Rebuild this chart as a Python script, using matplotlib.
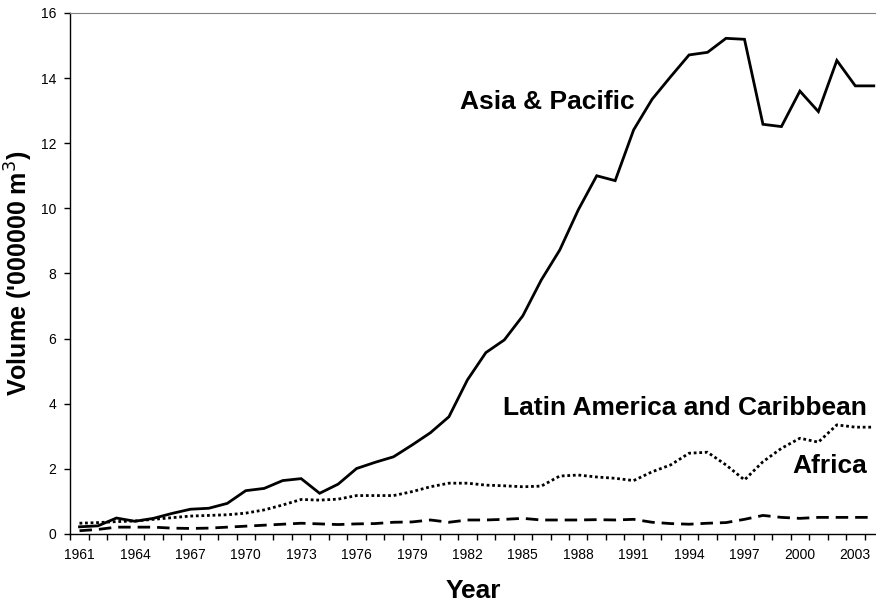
import numpy as np
import matplotlib.pyplot as plt
import matplotlib.ticker as ticker

plt.rcParams['font.family'] = ['Liberation Sans', 'DejaVu Sans']

years = np.arange(1961, 2005)

asia_pacific = [0.22, 0.25, 0.49, 0.39, 0.48, 0.63, 0.76, 0.79, 0.94, 1.33,
                1.40, 1.64, 1.70, 1.25, 1.53, 2.01, 2.20, 2.37, 2.73, 3.11,
                3.60, 4.73, 5.57, 5.96, 6.70, 7.80, 8.72, 9.95, 11.00, 10.85,
                12.41, 13.35, 14.04, 14.71, 14.79, 15.22, 15.19, 12.58, 12.51, 13.60,
                12.97, 14.54, 13.76, 13.76]

latin_america = [0.33, 0.35, 0.38, 0.40, 0.45, 0.50, 0.55, 0.57, 0.59, 0.64,
                 0.74, 0.89, 1.06, 1.04, 1.07, 1.18, 1.18, 1.18, 1.30, 1.45,
                 1.56, 1.56, 1.50, 1.48, 1.45, 1.47, 1.78, 1.81, 1.75, 1.71,
                 1.64, 1.91, 2.12, 2.48, 2.51, 2.12, 1.66, 2.22, 2.63, 2.94,
                 2.82, 3.35, 3.28, 3.28]

africa = [0.10, 0.14, 0.21, 0.21, 0.21, 0.18, 0.17, 0.18, 0.21, 0.24,
          0.27, 0.30, 0.33, 0.31, 0.29, 0.31, 0.32, 0.36, 0.37, 0.43,
          0.36, 0.43, 0.43, 0.45, 0.48, 0.43, 0.43, 0.43, 0.44, 0.43,
          0.45, 0.36, 0.32, 0.30, 0.33, 0.35, 0.45, 0.57, 0.51, 0.48,
          0.51, 0.51, 0.51, 0.51]

label_years = np.arange(1961, 2004, 3)

fig = plt.figure(figsize=(8.76, 6.01), dpi=100)
ax = fig.add_axes([0.0802, 0.1115, 0.9198, 0.867])

ax.plot(years, asia_pacific, color='black', lw=2.0, solid_joinstyle='miter')
ax.plot(years, latin_america, color='black', lw=2.0, linestyle=(0, (1, 1)),
        dash_capstyle='butt')
ax.plot(years, africa, color='black', lw=2.0, linestyle=(0, (4.5, 2.5)),
        dash_capstyle='butt')

# etiquetas de las series
ax.text(1981.6, 13.27, 'Asia & Pacific', fontsize=19, fontweight='bold',
        ha='left', va='center')
ax.text(1983.95, 3.87, 'Latin America and Caribbean', fontsize=19,
        fontweight='bold', ha='left', va='center')
ax.text(1999.6, 2.09, 'Africa', fontsize=19, fontweight='bold',
        ha='left', va='center')

ax.set_xlim(1960.5, 2004.12)
ax.set_ylim(0, 16)

ax.set_xticks(label_years)
ax.set_xticklabels([str(y) for y in label_years])
ax.xaxis.set_minor_locator(ticker.FixedLocator(np.arange(1960.5, 2004.6, 1)))
ax.tick_params(axis='x', which='major', length=0, pad=10, labelsize=10)
ax.tick_params(axis='x', which='minor', length=4, width=1, direction='out')
ax.set_yticks(np.arange(0, 17, 2))
ax.tick_params(axis='y', length=4, width=1, direction='out', labelsize=10, pad=6)

ax.spines['right'].set_visible(False)
ax.spines['top'].set_color('#808080')
ax.spines['left'].set_linewidth(1)
ax.spines['bottom'].set_linewidth(1)

ax.set_xlabel('Year', fontsize=19, fontweight='bold', labelpad=12)
ax.set_ylabel("Volume ('000000 m$^3$)", fontsize=18, fontweight='bold', labelpad=4)

fig.savefig('out.png', dpi=100)
